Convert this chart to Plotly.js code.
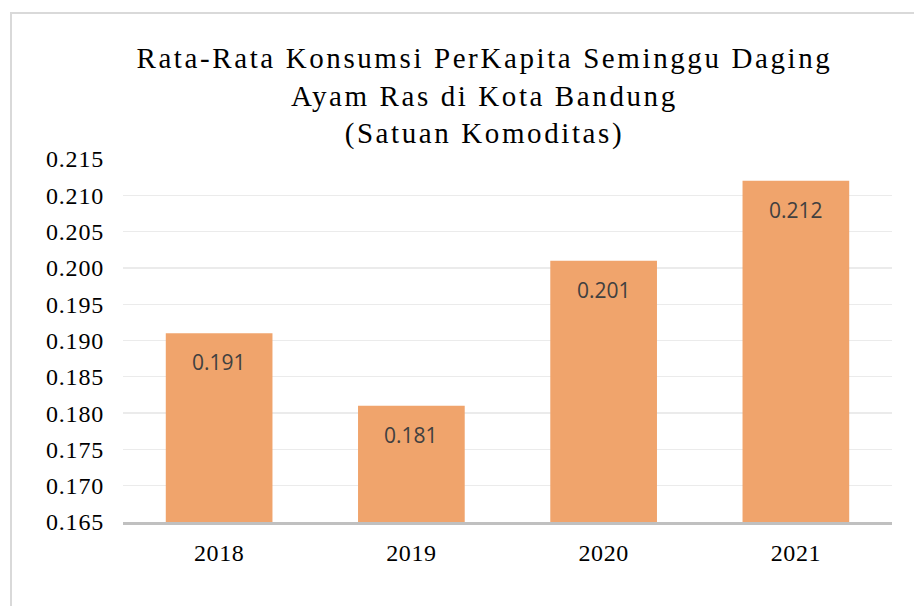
<!DOCTYPE html>
<html>
<head>
<meta charset="utf-8">
<script src="https://cdn.plot.ly/plotly-3.0.1.min.js"></script>
<style>
  html, body { margin: 0; padding: 0; background: #fff; }
  #wrap { position: relative; width: 914px; height: 606px; overflow: hidden; }
  #frame { position: absolute; left: 10px; top: 12px; width: 1000px; height: 700px; border: 2px solid #d9d9d9; box-sizing: border-box; pointer-events: none; }
  #chart { position: absolute; left: 0; top: 0; width: 914px; height: 606px; }
  .gtitle { letter-spacing: 2.6px; }
  .ytick text { letter-spacing: 0.8px; }
  .xtick text { letter-spacing: 0.6px; }
</style>
</head>
<body>
<div id="wrap">
  <div id="chart"></div>
  <div id="frame"></div>
</div>
<script>
const years = ['2018', '2019', '2020', '2021'];
const values = [0.191, 0.181, 0.201, 0.212];
const labels = ['0.191', '0.181', '0.201', '0.212'];
const yTicks = [0.165, 0.170, 0.175, 0.180, 0.185, 0.190, 0.195, 0.200, 0.205, 0.210, 0.215];
const yTickText = ['0.165', '0.170', '0.175', '0.180', '0.185', '0.190', '0.195', '0.200', '0.205', '0.210', '0.215'];
const titleText = 'Rata-Rata Konsumsi PerKapita Seminggu Daging<br>Ayam Ras di Kota Bandung<br>(Satuan Komoditas)';

const serif = 'Liberation Serif';

const trace = {
  type: 'bar',
  x: years,
  y: values,
  base: 0,
  marker: { color: '#F0A46C', line: { width: 0 } },
  hoverinfo: 'none'
};

const annotations = years.map((yr, i) => ({
  x: i, y: values[i], xref: 'x', yref: 'y',
  text: labels[i], showarrow: false,
  yanchor: 'middle', yshift: -29,
  font: { family: 'Open Sans', size: 21, color: '#404040' }
}));

const layout = {
  width: 914, height: 606,
  paper_bgcolor: 'rgba(0,0,0,0)', plot_bgcolor: 'rgba(0,0,0,0)',
  margin: { l: 123, r: 22, t: 159, b: 83.5 },
  showlegend: false,
  bargap: 0.445,
  title: {
    text: titleText,
    font: { family: serif, size: 29, color: '#000' },
    x: 0.530, xanchor: 'center',
    y: 1 - 68 / 606, yanchor: 'top', yref: 'container'
  },
  xaxis: {
    type: 'category',
    range: [-0.5, years.length - 0.5],
    autorange: false,
    showgrid: false,
    showline: true, linecolor: '#c0c0c0', linewidth: 2.5,
    ticks: '',
    tickfont: { family: serif, size: 24, color: '#000' },
    ticklabelstandoff: 8
  },
  yaxis: {
    range: [0.165, 0.215],
    autorange: false,
    tickvals: yTicks, ticktext: yTickText,
    showgrid: true, gridcolor: '#ebebeb', gridwidth: 1.3,
    zeroline: false, showline: false, ticks: '',
    tickfont: { family: serif, size: 24, color: '#000' },
    ticklabelstandoff: 18
  },
  annotations: annotations
};

Plotly.newPlot('chart', [trace], layout, { displayModeBar: false, staticPlot: true });
</script>
</body>
</html>
